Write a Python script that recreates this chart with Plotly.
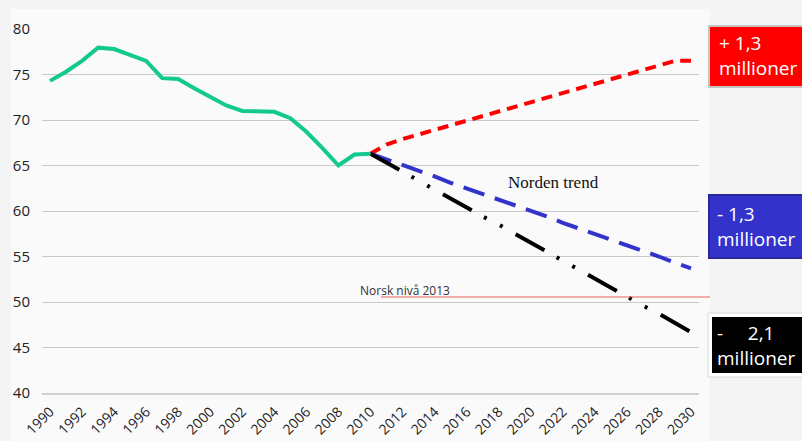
import plotly.graph_objects as go

hist_years = list(range(1990, 2011))
hist_values = [74.3, 75.3, 76.5, 77.95, 77.8, 77.2, 76.5, 74.6, 74.5, 73.5, 72.6,
               71.6, 71.0, 70.9, 70.9, 70.2, 68.7, 66.9, 65.0, 66.2, 66.3]

proj_years = list(range(2010, 2031))
high_values = [66.3, 67.3, 67.9, 68.4, 68.9, 69.4, 69.9, 70.4, 70.9, 71.4, 71.9,
               72.4, 72.9, 73.4, 73.9, 74.4, 74.9, 75.4, 75.9, 76.5, 76.5]
mid_values = [66.3, 65.7, 65.0, 64.4, 63.8, 63.1, 62.5, 61.9, 61.3, 60.6, 60.0,
              59.4, 58.7, 58.1, 57.5, 56.9, 56.2, 55.6, 55.0, 54.3, 53.7]
low_values = [66.3, 65.3, 64.3, 63.4, 62.4, 61.4, 60.4, 59.4, 58.5, 57.5, 56.5,
              55.5, 54.5, 53.6, 52.6, 51.6, 50.6, 49.6, 48.7, 47.7, 46.7]

x_ticks = list(range(1990, 2031, 2))
y_ticks = [40, 45, 50, 55, 60, 65, 70, 75, 80]
norsk_level = 50.55

W, H = 802, 441
L, R, T, B = 42, 103, 29, 48
pw, ph = W - L - R, H - T - B

def px(x):
    return (x - L) / pw

def py(y):
    return (H - B - y) / ph

fig = go.Figure()
fig.add_trace(go.Scatter(x=proj_years, y=high_values, mode="lines",
                         line=dict(color="#ff0000", width=4, dash="11px,7px")))
fig.add_trace(go.Scatter(x=proj_years, y=mid_values, mode="lines",
                         line=dict(color="#3333cc", width=4, dash="22px,11px")))
fig.add_trace(go.Scatter(x=proj_years, y=low_values, mode="lines",
                         line=dict(color="#000000", width=4,
                                   dash="33px,14px,3px,15px,3px,15px")))
fig.add_trace(go.Scatter(x=hist_years, y=hist_values, mode="lines",
                         line=dict(color="#14c98f", width=4)))

shapes = [
    dict(type="rect", xref="paper", yref="paper", x0=px(11), x1=px(710),
         y0=py(441), y1=py(9), fillcolor="#fafafa", line=dict(width=0), layer="below"),
    dict(type="line", xref="paper", yref="y", x0=px(381), x1=px(710),
         y0=norsk_level, y1=norsk_level, line=dict(color="#e8605a", width=1)),
    dict(type="rect", xref="paper", yref="paper", x0=px(709), x1=px(806),
         y0=py(87), y1=py(26), fillcolor="#ff0000", line=dict(color="#c4c4c4", width=2)),
    dict(type="rect", xref="paper", yref="paper", x0=px(709), x1=px(806),
         y0=py(258), y1=py(195), fillcolor="#3333cc", line=dict(color="#28289a", width=2)),
    dict(type="rect", xref="paper", yref="paper", x0=px(708), x1=px(806),
         y0=py(377), y1=py(313), fillcolor="#ffffff", line=dict(color="#d8d8d8", width=1)),
    dict(type="rect", xref="paper", yref="paper", x0=px(712), x1=px(806),
         y0=py(373), y1=py(317), fillcolor="#000000", line=dict(width=0)),
]

box_font = dict(family="Open Sans, Noto Sans, sans-serif", size=19, color="#ffffff")
annotations = [
    dict(xref="paper", yref="paper", x=px(717), y=py(56), xanchor="left", yanchor="middle",
         text="+ 1,3<br>millioner", showarrow=False, align="left", font=box_font),
    dict(xref="paper", yref="paper", x=px(715), y=py(226), xanchor="left", yanchor="middle",
         text="- 1,3<br>millioner", showarrow=False, align="left", font=box_font),
    dict(xref="paper", yref="paper", x=px(715), y=py(345), xanchor="left", yanchor="middle",
         text="-     2,1<br>millioner", showarrow=False, align="left", font=box_font),
    dict(xref="x", yref="y", x=2021.4, y=63.1, text="Norden trend", showarrow=False,
         font=dict(family="Liberation Serif, Times New Roman, serif", size=17, color="#111111")),
    dict(xref="paper", yref="paper", x=px(358), y=py(290), xanchor="left", yanchor="middle",
         text="Norsk nivå 2013", showarrow=False,
         font=dict(family="Open Sans, Noto Sans, sans-serif", size=12, color="#333333")),
]

fig.update_layout(
    width=W, height=H,
    margin=dict(l=L, r=R, t=T, b=B, pad=0, autoexpand=False),
    paper_bgcolor="#f4f4f4",
    plot_bgcolor="#fcfcfc",
    showlegend=False,
    shapes=shapes,
    annotations=annotations,
    font=dict(family="Open Sans, Noto Sans, sans-serif", size=15, color="#222222"),
)
fig.update_xaxes(range=[1989.5, 2030.5], tickmode="array", tickvals=x_ticks,
                 ticktext=[str(v) for v in x_ticks], tickangle=-45, automargin=False,
                 showgrid=False, zeroline=False, showline=True,
                 linecolor="#d0d0d0", linewidth=2, ticks="", ticklabelstandoff=3,
                 tickfont=dict(size=14, color="#222222"))
fig.update_yaxes(range=[40, 80], tickmode="array", tickvals=y_ticks, automargin=False,
                 showgrid=True, gridcolor="#c8c8c8", gridwidth=1, zeroline=False,
                 showline=False, ticks="", ticklabelstandoff=11,
                 tickfont=dict(size=15, color="#222222"))

fig.write_html(
    "out.html",
    config={"displayModeBar": False},
    post_script="document.body.style.margin='0';document.body.style.padding='0';"
                "document.body.style.overflow='hidden';",
)
